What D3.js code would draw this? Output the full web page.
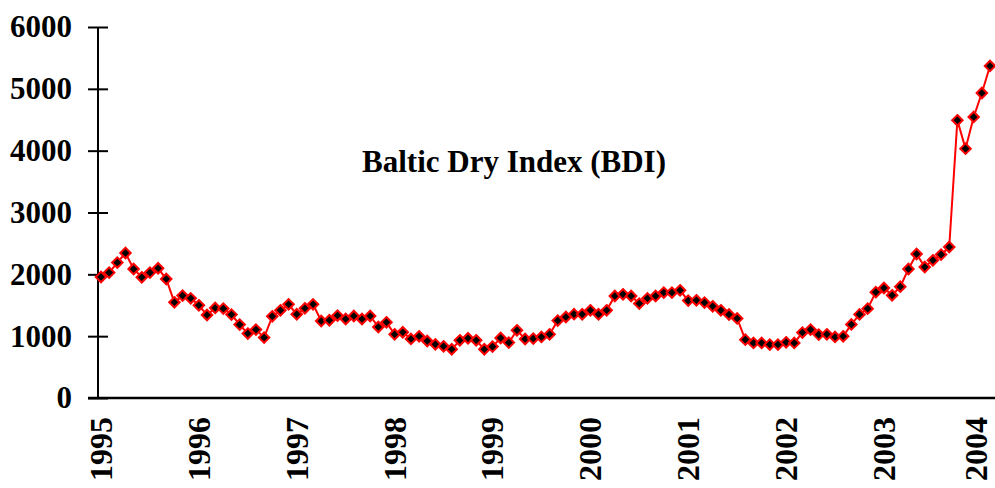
<!DOCTYPE html>
<html>
<head>
<meta charset="utf-8">
<script src="https://cdn.jsdelivr.net/npm/d3@7"></script>
<style>
  body { margin: 0; background: #fff; }
  svg text { font-family: "Liberation Serif", "Times New Roman", serif; font-weight: bold; }
</style>
</head>
<body>
<div id="chart"></div>
<script>
const width = 995;
const height = 488;

// monthly BDI, Jan 1995 - Feb 2004
const years = ["1995", "1996", "1997", "1998", "1999", "2000", "2001", "2002", "2003", "2004"];
const yTicks = [0, 1000, 2000, 3000, 4000, 5000, 6000];
const bdi = [
  1957, 2028, 2190, 2345, 2086, 1952, 2028, 2098, 1925, 1548, 1656, 1612,
  1499, 1342, 1456, 1446, 1349, 1187, 1042, 1106, 977, 1321, 1418, 1515,
  1354, 1451, 1515, 1245, 1257, 1333, 1278, 1326, 1278, 1326, 1148, 1224,
  1030, 1063, 955, 998, 922, 868, 836, 788, 933, 966, 933, 788,
  831, 970, 896, 1095, 954, 961, 987, 1030, 1252, 1310, 1356, 1354,
  1418, 1354, 1418, 1650, 1677, 1650, 1527, 1612, 1650, 1705, 1705, 1742,
  1575, 1580, 1543, 1483, 1418, 1350, 1287, 944, 890, 890, 864, 864,
  901, 890, 1058, 1106, 1025, 1030, 987, 998, 1190, 1352, 1445, 1712,
  1779, 1661, 1800, 2086, 2329, 2119, 2227, 2319, 2442, 4491, 4033, 4545,
  4933, 5370
];
const title = "Baltic Dry Index (BDI)";

// scales
const x = d3.scaleLinear().domain([0, bdi.length - 1]).range([101, 990]);
const y = d3.scaleLinear().domain([0, 6000]).range([398, 27]);

const svg = d3.select("#chart").append("svg")
    .attr("width", width)
    .attr("height", height);

// y axis
const yAxis = svg.append("g")
    .attr("transform", "translate(98,0)")
    .call(d3.axisLeft(y).tickValues(yTicks).tickSize(10).tickFormat(d3.format("d")));
yAxis.attr("font-family", null);
yAxis.select(".domain").remove();
yAxis.selectAll(".tick line").attr("x2", 10).attr("x1", -10)
    .attr("stroke", "#000").attr("stroke-width", 2);
yAxis.selectAll(".tick text")
    .attr("x", -26)
    .attr("font-size", 31)
    .attr("fill", "#000");

svg.append("line")
    .attr("x1", 98).attr("x2", 98)
    .attr("y1", y(6000)).attr("y2", y(0))
    .attr("stroke", "#000").attr("stroke-width", 2);

// x axis
svg.append("line")
    .attr("x1", 88).attr("x2", 995)
    .attr("y1", y(0)).attr("y2", y(0))
    .attr("stroke", "#000").attr("stroke-width", 2.5);

// year labels (last one nudged so it stays inside the frame)
svg.selectAll(".year")
    .data(years)
    .enter()
    .append("text")
    .attr("class", "year")
    .attr("transform", (d, i) => "translate(" + Math.min(x(i * 12), 976) + ",417) rotate(-90)")
    .attr("text-anchor", "end")
    .attr("dominant-baseline", "central")
    .attr("font-size", 32)
    .text(d => d);

// line
svg.append("path")
    .datum(bdi)
    .attr("fill", "none")
    .attr("stroke", "#ff0000")
    .attr("stroke-width", 2)
    .attr("d", d3.line().x((d, i) => x(i)).y(d => y(d)));

// markers
const diamond = d3.symbol().type(d3.symbolDiamond2).size(70);
svg.selectAll(".pt")
    .data(bdi)
    .enter()
    .append("path")
    .attr("class", "pt")
    .attr("transform", (d, i) => "translate(" + x(i) + "," + y(d) + ")")
    .attr("d", diamond)
    .attr("fill", "#000")
    .attr("stroke", "#ff0000")
    .attr("stroke-width", 2);

// title
svg.append("text")
    .attr("x", 514)
    .attr("y", 172)
    .attr("text-anchor", "middle")
    .attr("font-size", 31)
    .text(title);
</script>
</body>
</html>
